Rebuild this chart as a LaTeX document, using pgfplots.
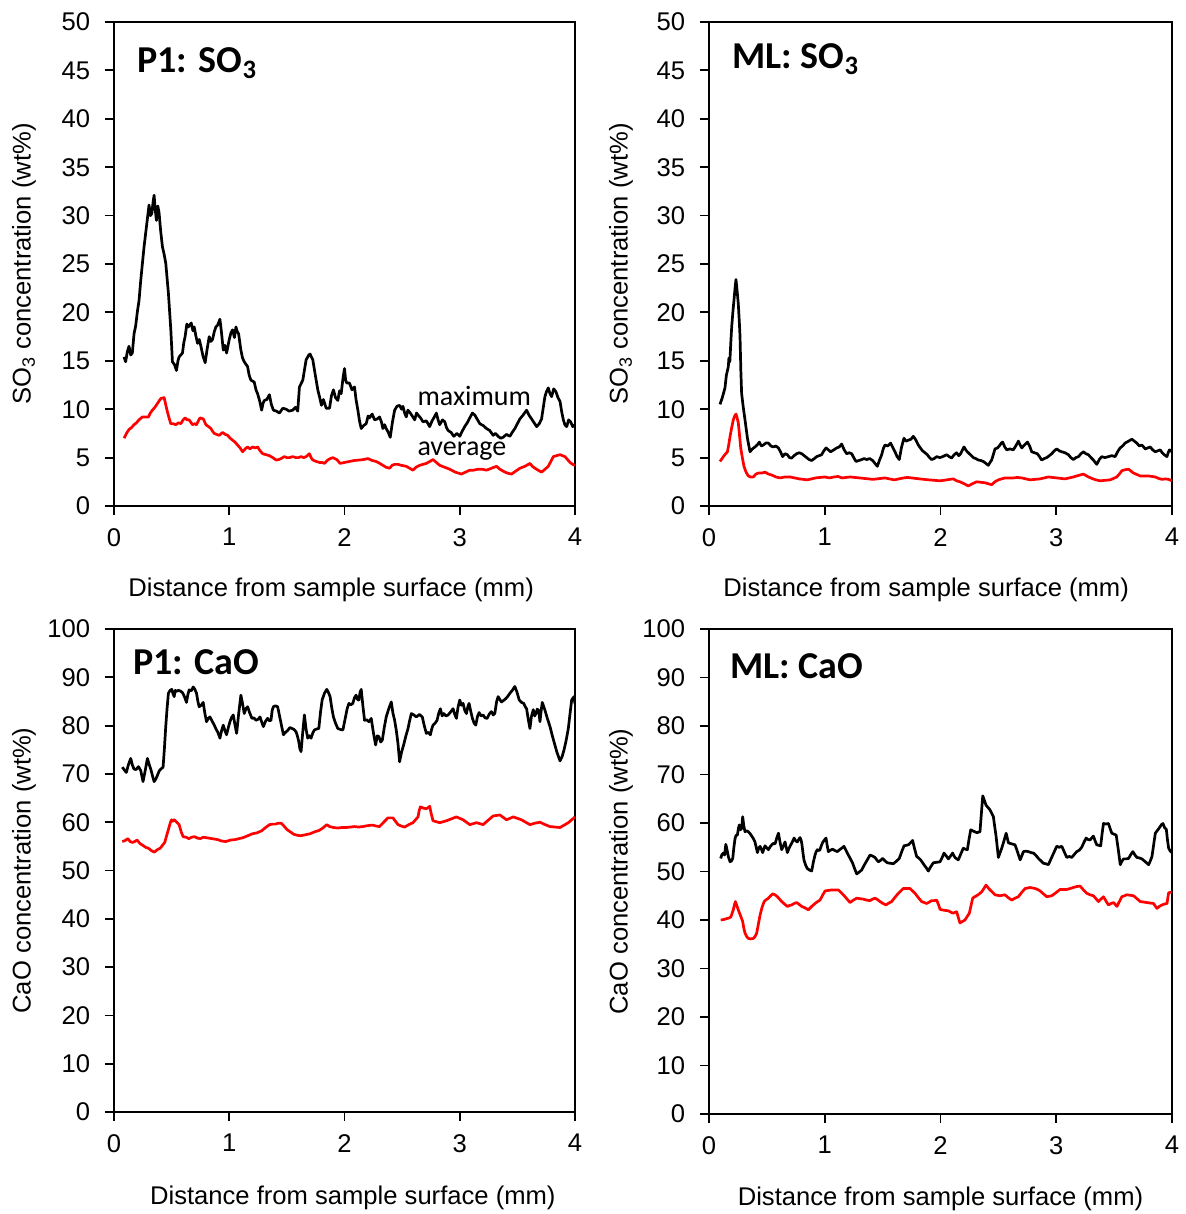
\documentclass[border=0pt]{standalone}
\usepackage{fontspec}
\setmainfont{Liberation Sans}
\newfontfamily\calibri{Carlito}
\usepackage{pgfplots}
\pgfplotsset{compat=1.18}

\pgfplotsset{
  panel/.style={
    scale only axis,
    xmin=0, xmax=4, xtick={0,1,2,3,4},
    tick align=outside, xtick pos=bottom, ytick pos=left,
    major tick length=4.5pt,
    axis line style={line width=1.2pt},
    every tick/.style={black, line width=0.9pt},
    tick label style={font=\fontsize{12.8}{14}\selectfont, inner sep=0pt},
    /pgf/number format/assume math mode=true,
    label style={font=\fontsize{12.8}{14}\selectfont, inner sep=0pt},
    xticklabel shift=6.4pt, yticklabel shift=7.2pt,
    xlabel={Distance from sample surface (mm)},
    ylabel style={anchor=center},
    xlabel style={anchor=center},
  },
  so3/.style={ymin=0, ymax=50, ytick={0,5,...,50},
    ylabel={SO\textsubscript{3} concentration (wt\%)}},
  cao/.style={ymin=0, ymax=100, ytick={0,10,...,100},
    ylabel={CaO concentration (wt\%)}},
  maxline/.style={black, line width=1.35pt, line join=round},
  avgline/.style={red, line width=1.35pt, line join=round},
}
\tikzset{
  paneltitle/.style={anchor=base west, inner sep=0pt,
    font=\calibri\bfseries\fontsize{19}{21}\selectfont},
  curvenote/.style={anchor=base west, inner sep=0pt,
    font=\calibri\fontsize{14}{16}\selectfont},
}

\begin{document}
\begin{tikzpicture}
\useasboundingbox (0,0) rectangle (592.5pt,-607pt);

% ---------------- P1: SO3 ----------------
\begin{axis}[panel, so3, width=230.5pt, height=242pt,
  at={(57pt,-11pt)}, anchor=north west,
  xlabel style={at={(axis description cs:0.471,-0.173)}},
  ylabel style={at={(axis description cs:-0.195,0.5)}}]
\addplot[maxline] coordinates {
(0.087,15.4) (0.101,14.9) (0.115,15.9) (0.130,16.5) (0.145,15.6) (0.159,15.8) (0.174,17.8)
(0.188,18.6) (0.203,20.1) (0.217,21.2) (0.232,23.3) (0.246,25.0) (0.261,26.8) (0.283,29.0)
(0.304,31.1) (0.316,30.0) (0.328,30.2) (0.340,31.5) (0.348,32.1) (0.358,30.6) (0.368,29.5)
(0.380,31.0) (0.391,30.3) (0.405,28.4) (0.420,26.8) (0.435,26.0) (0.449,25.1) (0.472,22.0)
(0.493,18.2) (0.507,14.9) (0.525,14.6) (0.542,14.0) (0.555,15.0) (0.565,15.4) (0.594,15.8)
(0.606,16.9) (0.617,17.5) (0.632,18.8) (0.646,18.5) (0.670,18.9) (0.685,18.1) (0.696,18.5)
(0.710,17.6) (0.725,16.8) (0.740,17.2) (0.754,16.5) (0.772,15.5) (0.791,14.8) (0.808,16.2)
(0.826,17.5) (0.840,17.0) (0.855,17.2) (0.870,18.0) (0.884,18.5) (0.900,18.7) (0.919,19.3)
(0.933,17.9) (0.948,16.1) (0.962,16.6) (0.977,15.8) (1.000,17.2) (1.015,17.9) (1.029,18.2)
(1.045,17.4) (1.058,18.5) (1.070,18.0) (1.081,17.8) (1.101,16.1) (1.115,15.3) (1.130,14.9)
(1.159,14.4) (1.173,13.5) (1.188,13.0) (1.217,12.8) (1.232,12.0) (1.246,11.6) (1.265,10.8)
(1.281,9.9) (1.293,10.6) (1.304,10.9) (1.326,11.0) (1.348,11.5) (1.365,10.5) (1.383,9.9)
(1.410,9.8) (1.435,9.6) (1.465,10.1) (1.493,10.0) (1.520,9.8) (1.551,9.9) (1.575,10.2)
(1.594,9.8) (1.609,12.3) (1.638,13.0) (1.667,15.1) (1.690,15.6) (1.701,15.7) (1.725,15.1)
(1.740,14.0) (1.754,13.0) (1.770,11.9) (1.783,11.3) (1.800,10.4) (1.817,11.0) (1.841,10.1)
(1.870,10.1) (1.887,11.4) (1.904,12.0) (1.922,11.2) (1.942,10.9) (1.957,11.9) (1.971,11.6)
(1.988,13.3) (2.000,14.2) (2.010,13.0) (2.020,12.7) (2.043,12.7) (2.065,12.0) (2.087,12.3)
(2.100,11.0) (2.116,9.9) (2.130,8.8) (2.145,8.0) (2.165,8.3) (2.188,8.5) (2.205,9.3)
(2.217,9.1) (2.240,9.5) (2.261,8.9) (2.285,9.0) (2.304,9.2) (2.320,8.7) (2.333,8.0)
(2.348,8.4) (2.362,8.0) (2.380,7.6) (2.397,7.1) (2.415,8.6) (2.435,9.9) (2.455,10.3)
(2.478,10.4) (2.495,10.0) (2.507,10.3) (2.522,9.6) (2.536,9.2) (2.550,9.9) (2.565,9.7)
(2.588,9.3) (2.609,8.9) (2.625,9.6) (2.638,9.4) (2.660,9.1) (2.681,8.7) (2.710,8.8)
(2.739,8.2) (2.760,8.8) (2.780,9.2) (2.797,9.6) (2.812,8.9) (2.826,8.4) (2.850,8.9)
(2.870,8.7) (2.885,8.1) (2.899,7.8) (2.925,7.6) (2.948,7.2) (2.975,7.5) (3.000,7.2)
(3.020,7.7) (3.043,8.2) (3.065,8.6) (3.087,9.1) (3.110,9.6) (3.130,9.4) (3.150,9.0)
(3.174,8.5) (3.205,8.3) (3.232,8.0) (3.260,7.8) (3.290,7.3) (3.310,7.5) (3.333,7.2)
(3.355,7.0) (3.377,7.1) (3.405,7.4) (3.435,7.2) (3.455,7.6) (3.478,8.0) (3.500,8.5)
(3.522,9.0) (3.550,9.4) (3.580,9.9) (3.600,9.4) (3.623,9.0) (3.645,8.6) (3.667,8.2)
(3.690,8.5) (3.710,9.0) (3.725,10.2) (3.739,11.3) (3.752,11.8) (3.768,12.2) (3.783,11.6)
(3.797,11.3) (3.815,12.1) (3.835,11.8) (3.852,11.2) (3.870,10.8) (3.885,9.7) (3.899,8.9)
(3.912,8.4) (3.928,8.2) (3.945,8.9) (3.962,8.7) (3.980,8.2) (4.000,8.4)
};
\addplot[avgline] coordinates {
(0.087,7.0) (0.108,7.5) (0.130,7.9) (0.152,8.1) (0.174,8.4) (0.195,8.6) (0.217,8.9)
(0.246,9.2) (0.275,9.2) (0.299,9.2) (0.315,9.6) (0.333,9.9) (0.355,10.2) (0.377,10.6)
(0.406,11.1) (0.435,11.2) (0.450,10.4) (0.464,9.7) (0.480,9.0) (0.493,8.5) (0.515,8.5)
(0.536,8.4) (0.560,8.6) (0.580,8.5) (0.600,8.9) (0.617,9.1) (0.635,8.9) (0.652,8.9)
(0.681,8.4) (0.700,8.5) (0.716,8.4) (0.732,8.8) (0.746,9.1) (0.775,9.0) (0.797,8.4)
(0.820,8.2) (0.841,8.0) (0.856,7.7) (0.870,7.5) (0.890,7.4) (0.913,7.3) (0.942,7.6)
(0.965,7.4) (0.986,7.3) (1.008,7.0) (1.029,6.8) (1.050,6.6) (1.072,6.3) (1.094,6.0)
(1.116,5.6) (1.138,5.9) (1.159,6.1) (1.180,5.9) (1.203,6.1) (1.225,6.0) (1.246,6.1)
(1.268,5.7) (1.290,5.4) (1.320,5.3) (1.348,5.2) (1.378,5.0) (1.406,4.75) (1.430,4.8)
(1.449,4.9) (1.478,5.1) (1.500,5.0) (1.522,5.0) (1.550,5.1) (1.580,5.0) (1.600,5.0)
(1.623,5.1) (1.645,5.0) (1.667,5.1) (1.696,5.4) (1.710,5.0) (1.725,4.75) (1.755,4.6)
(1.783,4.5) (1.805,4.5) (1.826,4.4) (1.855,4.75) (1.877,4.9) (1.899,5.0) (1.933,4.8)
(1.962,4.4) (2.000,4.5) (2.043,4.6) (2.085,4.7) (2.130,4.75) (2.165,4.8) (2.203,4.9)
(2.240,4.7) (2.275,4.6) (2.305,4.4) (2.333,4.2) (2.362,4.0) (2.391,3.9) (2.413,4.2)
(2.435,4.3) (2.465,4.3) (2.493,4.2) (2.536,4.1) (2.565,3.9) (2.594,3.7) (2.620,4.0)
(2.652,4.2) (2.680,4.3) (2.710,4.4) (2.740,4.6) (2.768,4.8) (2.797,4.5) (2.826,4.2)
(2.870,4.0) (2.913,3.8) (2.960,3.5) (3.014,3.3) (3.050,3.5) (3.087,3.7) (3.120,3.7)
(3.159,3.8) (3.195,3.8) (3.232,3.7) (3.275,3.9) (3.319,4.1) (3.348,3.8) (3.377,3.6)
(3.412,3.4) (3.449,3.3) (3.485,3.6) (3.522,3.9) (3.565,4.1) (3.609,4.4) (3.630,4.1)
(3.652,3.9) (3.680,3.7) (3.710,3.5) (3.740,3.8) (3.768,4.1) (3.790,4.6) (3.812,5.1)
(3.840,5.2) (3.870,5.3) (3.913,5.1) (3.935,4.8) (3.957,4.5) (3.980,4.3) (4.000,4.2)
};
\node[paneltitle] at (rel axis cs:0.05,0.895) {P1: SO\textsubscript{3}};
\node[curvenote] at (axis cs:2.63,10.43) {maximum};
\node[curvenote] at (axis cs:2.63,5.17) {average};
\end{axis}

% ---------------- ML: SO3 ----------------
\begin{axis}[panel, so3, width=231.5pt, height=242pt,
  at={(354.5pt,-11pt)}, anchor=north west,
  xlabel style={at={(axis description cs:0.469,-0.173)}},
  ylabel style={at={(axis description cs:-0.19,0.5)}}]
\addplot[maxline] coordinates {
(0.095,10.5) (0.115,11.2) (0.138,12.2) (0.150,13.5) (0.167,14.4) (0.172,15.3) (0.180,14.9)
(0.188,16.8) (0.196,18.5) (0.206,20.0) (0.216,21.3) (0.225,22.5) (0.233,23.4) (0.243,22.2)
(0.253,20.9) (0.262,19.0) (0.268,17.5) (0.275,14.0) (0.282,11.6) (0.296,10.2) (0.311,8.9)
(0.332,7.0) (0.354,5.6) (0.375,5.9) (0.397,6.1) (0.416,6.3) (0.435,6.6) (0.452,6.2)
(0.469,6.3) (0.490,6.5) (0.513,6.5) (0.535,6.2) (0.556,6.1) (0.578,6.2) (0.599,6.0)
(0.618,5.6) (0.636,5.1) (0.656,5.4) (0.677,5.3) (0.695,5.0) (0.714,4.95) (0.735,5.2)
(0.757,5.4) (0.780,5.5) (0.801,5.4) (0.822,5.2) (0.844,5.0) (0.865,4.8) (0.887,4.7)
(0.910,4.9) (0.930,5.1) (0.952,5.2) (0.973,5.3) (0.992,5.7) (1.011,6.0) (1.031,5.8)
(1.051,5.6) (1.078,5.8) (1.103,6.0) (1.125,6.1) (1.146,6.4) (1.168,5.8) (1.189,5.4)
(1.210,5.5) (1.233,5.4) (1.250,5.0) (1.270,4.6) (1.295,4.7) (1.319,4.8) (1.340,4.9)
(1.362,4.8) (1.388,4.9) (1.414,4.7) (1.434,4.4) (1.454,4.1) (1.475,4.8) (1.492,5.3)
(1.505,5.9) (1.520,6.3) (1.545,6.2) (1.569,6.5) (1.590,6.0) (1.607,5.6) (1.625,5.1)
(1.644,4.8) (1.662,6.0) (1.684,7.0) (1.702,6.7) (1.722,6.8) (1.745,6.9) (1.765,7.2)
(1.788,6.8) (1.808,6.3) (1.826,6.0) (1.845,5.7) (1.866,5.5) (1.886,5.3) (1.905,5.0)
(1.923,4.8) (1.945,4.9) (1.967,5.1) (1.993,5.0) (2.019,5.1) (2.036,5.2) (2.053,5.3)
(2.075,5.1) (2.096,4.95) (2.118,5.3) (2.139,5.5) (2.157,5.2) (2.174,5.4) (2.190,5.8)
(2.203,6.1) (2.218,5.8) (2.232,5.6) (2.258,5.3) (2.283,5.0) (2.305,4.9) (2.327,4.75)
(2.348,4.7) (2.370,4.6) (2.392,4.4) (2.413,4.2) (2.428,4.5) (2.442,4.75) (2.456,5.3)
(2.471,5.9) (2.493,6.0) (2.514,6.3) (2.525,6.5) (2.537,6.6) (2.555,6.1) (2.572,5.8)
(2.600,5.9) (2.629,5.8) (2.650,6.2) (2.673,6.7) (2.688,6.3) (2.702,6.0) (2.725,6.3)
(2.751,6.6) (2.770,6.2) (2.788,5.6) (2.812,5.5) (2.837,5.4) (2.855,5.1) (2.874,4.75)
(2.896,4.9) (2.918,5.0) (2.940,5.2) (2.961,5.4) (2.983,5.7) (3.004,5.9) (3.026,5.7)
(3.048,5.6) (3.076,5.5) (3.105,5.3) (3.126,5.0) (3.148,4.8) (3.170,5.0) (3.192,5.1)
(3.213,5.4) (3.235,5.6) (3.256,5.4) (3.278,5.3) (3.300,5.0) (3.321,4.75) (3.350,4.3)
(3.372,4.8) (3.393,5.1) (3.420,5.0) (3.451,5.1) (3.480,5.2) (3.509,5.1) (3.530,5.6)
(3.552,6.0) (3.573,6.2) (3.595,6.5) (3.625,6.7) (3.653,6.9) (3.675,6.7) (3.696,6.5)
(3.718,6.2) (3.740,6.3) (3.769,5.9) (3.790,6.0) (3.812,6.1) (3.833,5.8) (3.855,5.6)
(3.877,5.7) (3.898,5.8) (3.915,5.5) (3.933,5.3) (3.956,5.1) (3.970,5.6) (3.979,5.8)
(4.000,5.6)
};
\addplot[avgline] coordinates {
(0.095,4.6) (0.130,5.2) (0.159,5.6) (0.170,6.3) (0.182,7.2) (0.196,8.1) (0.210,8.9)
(0.222,9.3) (0.233,9.5) (0.243,9.1) (0.253,8.6) (0.263,7.4) (0.274,6.0) (0.288,5.0)
(0.302,4.1) (0.320,3.5) (0.340,3.1) (0.360,3.0) (0.383,3.0) (0.405,3.3) (0.426,3.4)
(0.455,3.4) (0.484,3.5) (0.513,3.3) (0.542,3.2) (0.578,3.0) (0.614,2.9) (0.655,3.0)
(0.700,3.0) (0.740,2.9) (0.780,2.8) (0.815,2.75) (0.850,2.7) (0.885,2.8) (0.920,2.9)
(0.960,2.95) (1.000,3.0) (1.040,2.9) (1.080,3.0) (1.115,3.05) (1.150,2.9) (1.185,2.95)
(1.220,3.0) (1.260,2.95) (1.300,2.9) (1.340,2.85) (1.380,2.8) (1.415,2.75) (1.450,2.8)
(1.485,2.85) (1.520,2.9) (1.560,2.8) (1.600,2.7) (1.640,2.8) (1.680,2.9) (1.715,2.95)
(1.750,2.9) (1.785,2.85) (1.820,2.8) (1.860,2.75) (1.900,2.7) (1.950,2.65) (1.996,2.6)
(2.025,2.65) (2.053,2.7) (2.082,2.75) (2.111,2.8) (2.140,2.6) (2.168,2.5) (2.205,2.3)
(2.240,2.07) (2.275,2.3) (2.312,2.5) (2.348,2.45) (2.384,2.4) (2.413,2.3) (2.442,2.2)
(2.470,2.5) (2.500,2.7) (2.528,2.8) (2.557,2.9) (2.593,2.9) (2.629,2.9) (2.665,2.95)
(2.702,2.9) (2.738,2.8) (2.774,2.7) (2.817,2.75) (2.860,2.8) (2.896,2.9) (2.932,3.0)
(2.968,2.95) (3.004,2.9) (3.040,2.85) (3.076,2.8) (3.112,2.9) (3.148,3.0) (3.190,3.15)
(3.235,3.3) (3.270,3.05) (3.307,2.85) (3.343,2.7) (3.379,2.6) (3.420,2.65) (3.466,2.7)
(3.495,2.85) (3.523,3.0) (3.545,3.3) (3.567,3.65) (3.595,3.75) (3.625,3.8) (3.646,3.6)
(3.668,3.4) (3.697,3.25) (3.726,3.1) (3.762,3.1) (3.798,3.1) (3.827,3.05) (3.855,3.0)
(3.884,2.85) (3.913,2.75) (3.942,2.8) (3.971,2.75) (4.000,2.6)
};
\node[paneltitle] at (rel axis cs:0.05,0.903) {ML: SO\textsubscript{3}};
\end{axis}

% ---------------- P1: CaO ----------------
\begin{axis}[panel, cao, width=230.5pt, height=241.5pt,
  at={(57pt,-314.5pt)}, anchor=north west,
  xlabel style={at={(axis description cs:0.518,-0.178)}},
  ylabel style={at={(axis description cs:-0.195,0.5)}}]
\addplot[maxline] coordinates {
(0.072,71.4) (0.090,70.8) (0.107,70.3) (0.125,71.9) (0.145,73.2) (0.160,71.8) (0.174,71.0)
(0.192,70.9) (0.212,71.5) (0.232,70.7) (0.252,68.4) (0.270,70.6) (0.290,73.2) (0.305,72.0)
(0.319,71.0) (0.334,69.6) (0.348,68.4) (0.362,68.9) (0.377,69.7) (0.392,70.6) (0.406,71.0)
(0.426,71.4) (0.438,75.5) (0.449,79.8) (0.460,83.4) (0.472,86.7) (0.487,87.3) (0.501,87.5)
(0.512,86.6) (0.522,86.0) (0.532,87.3) (0.542,87.1) (0.560,87.3) (0.580,87.1) (0.595,86.8)
(0.609,86.1) (0.619,85.5) (0.629,84.8) (0.640,86.3) (0.652,87.4) (0.670,87.2) (0.687,88.0)
(0.700,87.6) (0.716,86.7) (0.728,85.0) (0.739,83.9) (0.756,84.2) (0.774,84.8) (0.788,82.6)
(0.803,80.8) (0.818,81.5) (0.832,81.8) (0.850,81.0) (0.870,80.1) (0.885,79.3) (0.899,78.7)
(0.909,78.1) (0.919,77.4) (0.933,78.9) (0.948,80.1) (0.962,79.0) (0.977,78.1) (0.992,79.6)
(1.006,80.8) (1.020,81.7) (1.035,82.2) (1.050,80.1) (1.064,78.4) (1.082,82.5) (1.101,86.3)
(1.115,84.6) (1.130,82.5) (1.145,83.5) (1.159,83.9) (1.178,82.6) (1.197,81.5) (1.214,81.6)
(1.232,81.1) (1.250,81.3) (1.267,81.8) (1.282,80.7) (1.296,79.8) (1.315,80.9) (1.333,81.5)
(1.348,81.0) (1.362,81.1) (1.373,83.2) (1.383,83.9) (1.400,84.1) (1.420,83.9) (1.445,81.0)
(1.470,78.1) (1.488,78.6) (1.507,79.0) (1.526,79.6) (1.545,79.4) (1.562,79.2) (1.580,78.7)
(1.592,77.8) (1.603,76.7) (1.613,75.2) (1.623,74.6) (1.638,78.7) (1.652,82.2) (1.667,79.2)
(1.681,77.4) (1.695,77.9) (1.710,77.4) (1.725,78.5) (1.739,79.1) (1.758,79.3) (1.777,79.4)
(1.792,82.8) (1.806,85.3) (1.826,86.7) (1.846,87.5) (1.860,86.9) (1.875,86.0) (1.890,83.6)
(1.904,81.8) (1.922,80.5) (1.942,79.4) (1.965,79.2) (1.986,79.1) (2.009,81.8) (2.023,83.5)
(2.038,84.6) (2.055,84.3) (2.072,84.6) (2.087,85.8) (2.101,86.3) (2.113,85.4) (2.125,85.3)
(2.135,86.9) (2.145,87.5) (2.160,84.0) (2.174,81.1) (2.193,81.2) (2.212,80.8) (2.232,81.5)
(2.251,78.5) (2.270,76.0) (2.285,77.9) (2.299,77.7) (2.314,76.6) (2.328,77.0) (2.345,79.6)
(2.362,81.8) (2.384,83.5) (2.406,84.9) (2.420,82.6) (2.435,81.1) (2.450,78.9) (2.464,76.3)
(2.478,72.5) (2.495,74.5) (2.513,76.0) (2.532,77.8) (2.551,79.4) (2.565,81.0) (2.580,82.5)
(2.602,82.2) (2.623,81.8) (2.650,82.3) (2.675,81.8) (2.692,80.0) (2.710,78.4) (2.728,78.6)
(2.745,78.1) (2.758,79.4) (2.768,80.1) (2.786,80.5) (2.803,81.1) (2.818,82.6) (2.832,83.5)
(2.847,82.0) (2.861,82.5) (2.880,82.0) (2.899,82.2) (2.920,82.8) (2.942,83.5) (2.957,82.3)
(2.971,81.5) (2.985,83.8) (3.000,85.3) (3.015,84.2) (3.029,84.6) (3.044,83.1) (3.058,82.5)
(3.070,83.9) (3.081,84.6) (3.096,82.9) (3.110,81.5) (3.125,80.5) (3.139,80.1) (3.154,81.9)
(3.168,82.7) (3.185,82.0) (3.203,82.2) (3.220,81.6) (3.238,81.5) (3.256,82.4) (3.275,82.9)
(3.290,82.2) (3.304,82.5) (3.320,85.0) (3.333,86.0) (3.348,85.4) (3.362,84.9) (3.380,85.2)
(3.400,85.6) (3.418,86.1) (3.435,86.7) (3.456,87.3) (3.478,88.1) (3.497,86.9) (3.516,85.3)
(3.536,84.8) (3.556,84.6) (3.568,83.9) (3.580,83.5) (3.595,81.2) (3.609,79.4) (3.622,81.9)
(3.638,83.3) (3.650,82.0) (3.661,82.5) (3.672,83.4) (3.684,83.2) (3.696,80.8) (3.705,82.8)
(3.716,84.8) (3.728,84.0) (3.739,83.2) (3.760,81.5) (3.783,79.8) (3.800,78.2) (3.817,76.7)
(3.843,74.5) (3.870,72.7) (3.887,73.5) (3.904,74.9) (3.922,76.8) (3.942,79.4) (3.957,82.5)
(3.971,85.3) (3.991,86.0) (4.000,84.5)
};
\addplot[avgline] coordinates {
(0.072,56.0) (0.096,56.2) (0.120,56.6) (0.140,56.0) (0.160,55.8) (0.180,56.0) (0.200,56.3)
(0.225,55.6) (0.250,55.2) (0.275,54.8) (0.300,54.6) (0.325,54.1) (0.350,53.8) (0.375,54.3)
(0.400,54.6) (0.420,55.2) (0.440,55.8) (0.460,57.5) (0.478,59.0) (0.490,60.0) (0.500,60.5)
(0.511,60.2) (0.522,60.5) (0.545,60.0) (0.565,59.5) (0.583,58.0) (0.600,57.0) (0.625,56.9)
(0.650,56.6) (0.675,56.9) (0.700,57.0) (0.725,56.7) (0.750,56.6) (0.775,56.9) (0.800,56.8)
(0.850,56.6) (0.900,56.4) (0.935,56.1) (0.970,56.0) (1.010,56.3) (1.050,56.4) (1.085,56.6)
(1.120,56.8) (1.160,57.2) (1.200,57.6) (1.240,57.8) (1.280,58.2) (1.315,58.9) (1.350,59.5)
(1.375,59.6) (1.400,59.6) (1.425,59.8) (1.450,59.8) (1.475,59.2) (1.500,58.5) (1.530,58.0)
(1.560,57.5) (1.590,57.3) (1.620,57.2) (1.660,57.4) (1.700,57.6) (1.740,58.0) (1.780,58.3)
(1.812,58.8) (1.846,59.5) (1.870,59.1) (1.905,58.9) (1.940,58.8) (1.977,58.9) (2.014,58.9)
(2.050,59.0) (2.087,59.1) (2.123,59.0) (2.159,59.1) (2.203,59.3) (2.246,59.4) (2.275,59.2)
(2.304,59.1) (2.340,60.0) (2.377,60.9) (2.400,60.9) (2.420,60.9) (2.442,60.2) (2.464,59.5)
(2.493,59.2) (2.522,59.0) (2.558,59.5) (2.594,59.9) (2.616,60.5) (2.638,61.1) (2.648,62.4)
(2.659,63.2) (2.685,62.9) (2.710,62.8) (2.725,63.0) (2.739,63.3) (2.752,61.8) (2.768,60.3)
(2.797,60.1) (2.826,59.9) (2.855,60.1) (2.884,60.3) (2.928,60.7) (2.971,61.1) (3.000,60.8)
(3.029,60.5) (3.058,60.0) (3.087,59.5) (3.116,59.7) (3.145,59.9) (3.174,59.7) (3.203,59.5)
(3.246,60.4) (3.290,61.3) (3.320,61.4) (3.348,61.5) (3.377,61.0) (3.406,60.5) (3.435,60.8)
(3.464,61.1) (3.500,60.8) (3.536,60.5) (3.572,60.0) (3.609,59.5) (3.652,59.8) (3.696,60.0)
(3.740,59.5) (3.783,59.1) (3.826,59.0) (3.870,58.9) (3.906,59.4) (3.942,59.9) (3.971,60.5)
(4.000,61.1)
};
\node[paneltitle] at (rel axis cs:0.041,0.905) {P1: CaO};
\end{axis}

% ---------------- ML: CaO ----------------
\begin{axis}[panel, cao, width=231.5pt, height=242.5pt,
  at={(354.5pt,-314.5pt)}, anchor=north west,
  xlabel style={at={(axis description cs:0.5,-0.175)}},
  ylabel style={at={(axis description cs:-0.19,0.5)}}]
\addplot[maxline] coordinates {
(0.101,52.7) (0.112,53.5) (0.124,53.8) (0.135,53.4) (0.145,55.6) (0.153,54.8) (0.168,53.0)
(0.182,52.0) (0.195,52.2) (0.205,52.7) (0.215,55.0) (0.225,56.8) (0.235,57.5) (0.245,57.5)
(0.255,59.0) (0.262,59.6) (0.272,58.6) (0.282,58.9) (0.291,61.3) (0.300,59.5) (0.311,58.2)
(0.325,58.4) (0.340,58.2) (0.355,57.8) (0.369,57.3) (0.383,56.8) (0.397,56.1) (0.408,55.0)
(0.418,53.9) (0.430,54.8) (0.441,55.2) (0.452,54.6) (0.464,53.9) (0.474,54.7) (0.484,55.3)
(0.498,54.9) (0.513,54.5) (0.528,55.1) (0.542,55.5) (0.556,55.8) (0.571,55.7) (0.585,56.9)
(0.600,57.9) (0.614,56.0) (0.628,54.5) (0.643,55.3) (0.657,56.1) (0.667,55.0) (0.677,53.9)
(0.690,54.7) (0.700,55.2) (0.718,56.0) (0.735,56.9) (0.750,56.3) (0.763,56.1) (0.775,56.6)
(0.786,57.0) (0.795,56.5) (0.801,55.9) (0.812,53.8) (0.821,52.3) (0.835,51.3) (0.850,50.6)
(0.868,50.3) (0.887,50.1) (0.902,52.0) (0.916,53.4) (0.926,54.1) (0.936,54.5) (0.948,54.3)
(0.959,54.5) (0.970,55.3) (0.982,56.0) (0.997,56.5) (1.011,56.9) (1.020,55.5) (1.031,54.1)
(1.050,54.4) (1.068,54.6) (1.090,54.3) (1.109,54.1) (1.128,54.5) (1.146,54.8) (1.156,55.0)
(1.166,55.2) (1.185,54.3) (1.204,53.4) (1.222,52.6) (1.241,51.7) (1.258,50.6) (1.276,49.5)
(1.298,49.9) (1.319,50.3) (1.334,51.0) (1.348,51.6) (1.370,52.5) (1.391,53.4) (1.412,53.2)
(1.434,52.9) (1.449,52.4) (1.463,52.0) (1.482,52.3) (1.500,52.7) (1.520,52.2) (1.540,51.8)
(1.566,51.7) (1.592,51.6) (1.618,52.1) (1.644,52.7) (1.665,54.1) (1.685,55.3) (1.704,55.4)
(1.722,55.5) (1.740,55.9) (1.759,56.4) (1.776,54.7) (1.794,53.1) (1.811,52.8) (1.828,52.4)
(1.843,51.9) (1.857,51.4) (1.876,50.8) (1.895,50.1) (1.916,51.0) (1.938,51.8) (1.967,51.9)
(1.996,52.0) (2.013,52.8) (2.030,53.8) (2.050,53.2) (2.068,52.6) (2.087,53.2) (2.105,53.8)
(2.115,53.3) (2.125,52.9) (2.140,52.6) (2.154,52.4) (2.175,53.6) (2.197,54.8) (2.215,54.6)
(2.232,54.5) (2.246,56.6) (2.261,58.6) (2.287,58.3) (2.313,58.0) (2.327,58.1) (2.341,58.2)
(2.353,61.9) (2.365,65.6) (2.380,64.6) (2.393,63.7) (2.410,63.2) (2.428,62.7) (2.442,62.0)
(2.457,61.3) (2.468,59.3) (2.480,57.3) (2.490,55.1) (2.500,52.9) (2.515,53.9) (2.529,54.8)
(2.548,56.3) (2.567,57.9) (2.577,56.9) (2.587,55.9) (2.615,55.7) (2.644,55.5) (2.666,54.0)
(2.688,52.4) (2.702,53.2) (2.716,54.1) (2.738,54.2) (2.760,54.1) (2.782,53.9) (2.803,53.8)
(2.825,53.3) (2.846,52.7) (2.868,52.2) (2.889,51.7) (2.910,51.6) (2.932,51.4) (2.951,52.4)
(2.970,53.4) (2.987,54.3) (3.004,55.2) (3.026,55.0) (3.048,55.2) (3.070,54.0) (3.091,52.9)
(3.113,53.1) (3.134,52.9) (3.155,53.5) (3.177,54.1) (3.199,54.4) (3.220,55.0) (3.239,56.0)
(3.258,56.9) (3.275,56.6) (3.292,56.5) (3.306,56.9) (3.321,57.3) (3.336,56.3) (3.350,55.5)
(3.367,55.4) (3.384,55.3) (3.396,57.8) (3.408,59.9) (3.430,59.8) (3.451,59.9) (3.466,58.8)
(3.480,57.9) (3.499,57.7) (3.518,57.5) (3.536,54.5) (3.553,51.4) (3.567,52.1) (3.581,52.6)
(3.603,52.6) (3.625,52.7) (3.644,53.5) (3.662,54.1) (3.680,53.4) (3.697,52.9) (3.718,52.8)
(3.740,52.6) (3.770,52.0) (3.798,51.4) (3.813,52.2) (3.827,53.1) (3.842,55.6) (3.856,57.9)
(3.878,58.6) (3.899,59.3) (3.910,59.7) (3.922,59.9) (3.937,59.0) (3.951,58.7) (3.961,56.5)
(3.971,54.8) (3.985,54.2) (4.000,53.9)
};
\addplot[avgline] coordinates {
(0.101,40.0) (0.127,40.1) (0.153,40.3) (0.170,40.4) (0.188,40.6) (0.200,41.4) (0.210,42.1)
(0.220,43.2) (0.228,43.8) (0.240,43.0) (0.253,42.1) (0.272,40.9) (0.291,39.7) (0.300,38.4)
(0.311,37.3) (0.325,36.6) (0.340,36.2) (0.360,36.1) (0.383,36.2) (0.398,36.6) (0.412,37.3)
(0.426,39.1) (0.441,41.0) (0.458,42.6) (0.476,43.8) (0.495,44.2) (0.513,44.5) (0.532,45.0)
(0.550,45.4) (0.570,45.2) (0.591,44.8) (0.610,44.3) (0.628,43.8) (0.652,43.3) (0.677,42.8)
(0.695,43.0) (0.714,43.1) (0.735,43.4) (0.757,43.6) (0.780,43.2) (0.801,42.8) (0.830,42.5)
(0.858,42.1) (0.887,42.8) (0.916,43.4) (0.938,43.8) (0.959,44.1) (0.981,45.1) (1.003,46.0)
(1.030,46.1) (1.060,46.2) (1.090,46.2) (1.117,46.2) (1.140,45.7) (1.160,45.2) (1.190,44.4)
(1.218,43.6) (1.247,44.1) (1.276,44.5) (1.305,44.4) (1.333,44.3) (1.362,44.1) (1.391,44.0)
(1.412,44.3) (1.434,44.5) (1.456,44.2) (1.478,43.8) (1.504,43.4) (1.529,43.1) (1.553,43.5)
(1.578,43.8) (1.607,44.7) (1.636,45.5) (1.657,46.0) (1.679,46.5) (1.708,46.5) (1.736,46.5)
(1.758,46.0) (1.780,45.5) (1.809,44.6) (1.837,43.8) (1.859,43.6) (1.881,43.4) (1.903,43.7)
(1.924,44.0) (1.946,44.0) (1.967,44.1) (1.982,43.2) (1.996,42.2) (2.032,42.0) (2.068,41.9)
(2.090,41.6) (2.111,41.4) (2.126,41.6) (2.140,41.7) (2.154,40.5) (2.168,39.4) (2.190,39.7)
(2.211,40.0) (2.230,40.7) (2.249,41.4) (2.264,43.0) (2.278,44.5) (2.296,44.8) (2.313,45.0)
(2.335,45.4) (2.356,45.8) (2.375,46.5) (2.393,47.2) (2.410,46.7) (2.428,46.2) (2.450,45.7)
(2.471,45.2) (2.492,45.1) (2.514,45.0) (2.535,45.1) (2.557,45.2) (2.586,44.6) (2.615,44.1)
(2.644,44.5) (2.673,44.8) (2.702,45.7) (2.731,46.5) (2.752,46.6) (2.774,46.7) (2.796,46.6)
(2.817,46.5) (2.838,46.3) (2.860,46.0) (2.889,45.4) (2.918,44.8) (2.940,44.9) (2.961,45.0)
(2.990,45.5) (3.033,46.3) (3.062,46.3) (3.091,46.3) (3.120,46.5) (3.148,46.7) (3.177,46.9)
(3.206,47.0) (3.235,46.2) (3.264,45.5) (3.292,45.2) (3.321,45.0) (3.343,44.4) (3.365,43.8)
(3.386,44.3) (3.408,44.8) (3.430,43.9) (3.451,43.1) (3.473,43.4) (3.495,43.6) (3.510,43.2)
(3.524,42.8) (3.545,43.8) (3.567,44.8) (3.589,45.0) (3.610,45.2) (3.639,45.1) (3.668,45.0)
(3.697,44.4) (3.726,43.8) (3.755,43.7) (3.783,43.6) (3.812,43.5) (3.841,43.4) (3.855,42.9)
(3.870,42.4) (3.891,42.8) (3.913,43.1) (3.935,43.3) (3.957,43.4) (3.964,44.6) (3.971,45.6)
(3.986,45.7) (4.000,45.8)
};
\node[paneltitle] at (rel axis cs:0.045,0.897) {ML: CaO};
\end{axis}
\end{tikzpicture}
\end{document}
